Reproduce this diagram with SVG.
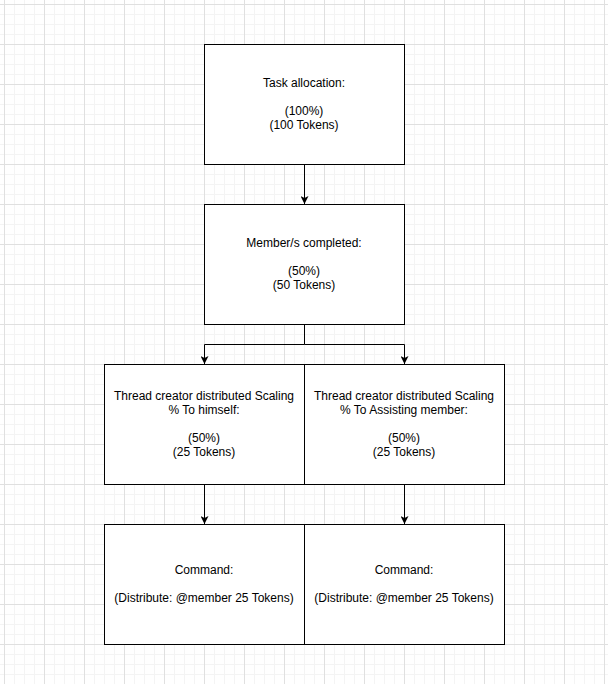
<svg xmlns="http://www.w3.org/2000/svg" width="608" height="684" viewBox="0 0 608 684">
<style>
.box{fill:#ffffff;stroke:#000000;stroke-width:1}
.lbl{font-family:"Liberation Sans",Arial,Helvetica,sans-serif;font-size:12px;fill:#000000;text-anchor:middle}
.edge{fill:none;stroke:#000000;stroke-width:1}
</style>
<defs>
<pattern id="grid" x="4" y="4" width="40" height="40" patternUnits="userSpaceOnUse">
<path d="M10.5,0V40M20.5,0V40M30.5,0V40M0,10.5H40M0,20.5H40M0,30.5H40" stroke="#f4f4f4" stroke-width="1" fill="none"/>
<path d="M0.5,0V40M0,0.5H40" stroke="#e0e0e0" stroke-width="1" fill="none"/>
</pattern>
<marker id="arrow" viewBox="0 0 8 8" refX="8" refY="4" markerWidth="8" markerHeight="8" markerUnits="userSpaceOnUse" orient="auto">
<path d="M0,0L8,4L0,8L2,4Z" fill="#000000"/>
</marker>
</defs>
<rect width="608" height="684" fill="#ffffff"/>
<rect width="608" height="684" fill="url(#grid)"/>
<g id="connectors">
<path class="edge" d="M304.5,164.5V204" marker-end="url(#arrow)"/>
<path class="edge" d="M304.5,324.5V344.5H204.5V364" marker-end="url(#arrow)"/>
<path class="edge" d="M304.5,344.5H404.5V364" marker-end="url(#arrow)"/>
<path class="edge" d="M204.5,484.5V524" marker-end="url(#arrow)"/>
<path class="edge" d="M404.5,484.5V524" marker-end="url(#arrow)"/>
</g>
<g id="task-allocation">
<rect class="box" x="204.5" y="44.5" width="200" height="120"/>
<text class="lbl" x="304" y="87">Task allocation:</text>
<text class="lbl" x="304" y="115">(100%)</text>
<text class="lbl" x="304" y="129">(100 Tokens)</text>
</g>
<g id="members-completed">
<rect class="box" x="204.5" y="204.5" width="200" height="120"/>
<text class="lbl" x="304" y="247">Member/s completed:</text>
<text class="lbl" x="304" y="275">(50%)</text>
<text class="lbl" x="304" y="289">(50 Tokens)</text>
</g>
<g id="creator-himself">
<rect class="box" x="104.5" y="364.5" width="200" height="120"/>
<text class="lbl" x="204" y="400">Thread creator distributed Scaling</text>
<text class="lbl" x="204" y="414">% To himself:</text>
<text class="lbl" x="204" y="442">(50%)</text>
<text class="lbl" x="204" y="456">(25 Tokens)</text>
</g>
<g id="creator-assisting">
<rect class="box" x="304.5" y="364.5" width="200" height="120"/>
<text class="lbl" x="404" y="400">Thread creator distributed Scaling</text>
<text class="lbl" x="404" y="414">% To Assisting member:</text>
<text class="lbl" x="404" y="442">(50%)</text>
<text class="lbl" x="404" y="456">(25 Tokens)</text>
</g>
<g id="command-left">
<rect class="box" x="104.5" y="524.5" width="200" height="120"/>
<text class="lbl" x="204" y="574">Command:</text>
<text class="lbl" x="204" y="602">(Distribute: @member 25 Tokens)</text>
</g>
<g id="command-right">
<rect class="box" x="304.5" y="524.5" width="200" height="120"/>
<text class="lbl" x="404" y="574">Command:</text>
<text class="lbl" x="404" y="602">(Distribute: @member 25 Tokens)</text>
</g>
</svg>
